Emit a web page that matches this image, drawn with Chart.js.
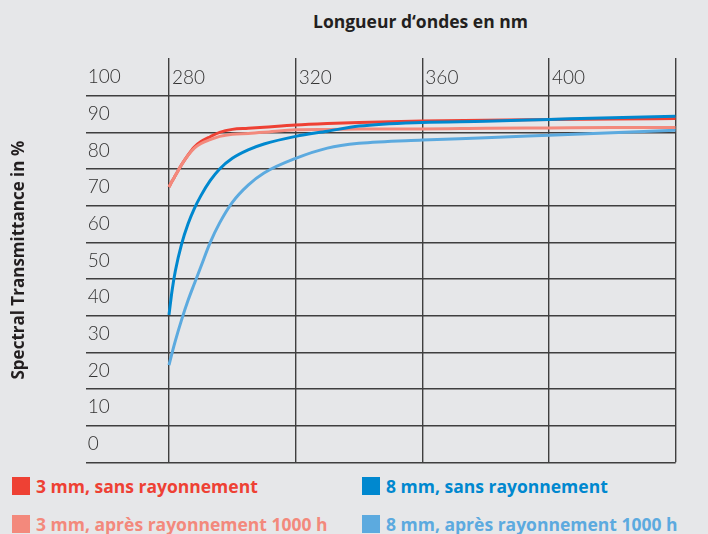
<!DOCTYPE html>
<html>
<head>
<meta charset="utf-8">
<script src="https://cdn.jsdelivr.net/npm/chart.js@4.4.1/dist/chart.umd.min.js"></script>
<style>
  html, body { margin: 0; padding: 0; background: #e6e7e9; }
  body { width: 708px; height: 534px; position: relative; overflow: hidden; font-family: "Open Sans", sans-serif; }
  #wrap { position: absolute; left: 0; top: 0; width: 708px; height: 470px; }
  #top-title { position: absolute; left: 313px; top: 9px; font-weight: 700; font-size: 17.5px; color: #231f20; white-space: nowrap; }
  #legend { position: absolute; left: 12px; top: 474px; }
  .legend-item { position: absolute; display: flex; align-items: center; font-weight: 700; font-size: 17.5px; white-space: nowrap; }
  .legend-item .box { width: 18px; height: 18px; margin-right: 6px; }
</style>
</head>
<body>
<div id="top-title">Longueur d‘ondes en nm</div>
<div id="wrap"><canvas id="chart" width="708" height="470"></canvas></div>
<div id="legend"></div>
<script>
// wavelengths in nm
const wavelengths = [280, 281, 282, 284, 286, 288, 290, 293, 296, 300, 305, 310, 320, 330, 340, 360, 380, 400, 420, 440];

// transmittance in %
const mm3Sans = [70.1, 71.7, 73.2, 76.2, 78.8, 81.0, 82.4, 83.8, 85.0, 85.8, 86.1, 86.4, 87.0, 87.4, 87.7, 88.1, 88.3, 88.5, 88.6, 88.8];
const mm3Apres = [70.1, 71.7, 73.2, 76.2, 78.7, 80.7, 81.9, 83.0, 83.9, 84.5, 84.7, 85.0, 85.7, 85.8, 85.9, 85.9, 86.1, 86.2, 86.3, 86.3];
const mm8Sans = [35.2, 42.0, 47.2, 54.6, 60.0, 64.2, 67.6, 71.8, 75.0, 77.9, 80.2, 81.8, 83.9, 85.3, 86.7, 87.7, 88.0, 88.5, 89.0, 89.4];
const mm8Apres = [21.5, 24.9, 28.1, 33.9, 39.1, 43.7, 48.2, 54.9, 60.3, 65.9, 70.6, 73.9, 77.9, 80.7, 82.0, 82.9, 83.5, 84.2, 84.9, 85.6];

const xTicks = [280, 320, 360, 400, 440];
const yTickLabels = [0, 10, 20, 30, 40, 50, 60, 70, 80, 90, 100];

const seriesLabels = ["3 mm, sans rayonnement", "8 mm, sans rayonnement", "3 mm, après rayonnement 1000 h", "8 mm, après rayonnement 1000 h"];
const seriesColors = ["#ee4134", "#0088cf", "#f3897c", "#5caadf"];

function toPoints(values) {
  return values.map((v, i) => ({ x: wavelengths[i], y: v }));
}

Chart.defaults.font.family = "Lato, sans-serif";
Chart.defaults.color = "#333";

const gridColor = "#3f3f3f";

// labels sit inside the table cells, so no extra room is reserved around the axes
function noScalePadding(scale) {
  scale.paddingTop = 0;
  scale.paddingBottom = 0;
  scale.paddingLeft = 0;
  scale.paddingRight = 0;
}

const chart = new Chart(document.getElementById("chart"), {
  type: "line",
  data: {
    datasets: [
      { label: seriesLabels[0], data: toPoints(mm3Sans), borderColor: seriesColors[0], backgroundColor: seriesColors[0], order: 2 },
      { label: seriesLabels[1], data: toPoints(mm8Sans), borderColor: seriesColors[1], backgroundColor: seriesColors[1], order: 0 },
      { label: seriesLabels[2], data: toPoints(mm3Apres), borderColor: seriesColors[2], backgroundColor: seriesColors[2], order: 1 },
      { label: seriesLabels[3], data: toPoints(mm8Apres), borderColor: seriesColors[3], backgroundColor: seriesColors[3], order: 3 },
    ],
  },
  options: {
    responsive: false,
    animation: false,
    devicePixelRatio: 1,
    layout: { padding: { left: 0, right: 32.3, top: 58, bottom: 7.7 } },
    elements: {
      line: { borderWidth: 3, cubicInterpolationMode: "monotone", fill: false },
      point: { radius: 0 },
    },
    plugins: { legend: { display: false }, tooltip: { enabled: false } },
    scales: {
      x: {
        type: "linear",
        position: "top",
        min: 253.7,
        max: 440,
        afterBuildTicks: (scale) => { scale.ticks = xTicks.map((v) => ({ value: v })); },
        afterFit: (scale) => { scale.height = 0; noScalePadding(scale); },
        border: { display: false },
        grid: { color: gridColor, lineWidth: 1.4, drawTicks: false },
        ticks: {
          mirror: true,
          align: "start",
          labelOffset: 3,
          padding: 8,
          font: { size: 19, weight: 300 },
          color: "#333",
          callback: (v) => (v === 440 ? "" : v),
        },
      },
      y: {
        min: -5,
        max: 105.27,
        afterBuildTicks: (scale) => { scale.ticks = yTickLabels.map((v) => ({ value: v - 5 })); },
        afterFit: (scale) => { scale.width = 85.7; noScalePadding(scale); },
        border: { display: false },
        grid: { color: gridColor, lineWidth: 1.4, drawTicks: false },
        title: {
          display: true,
          text: "Spectral Transmittance in %",
          font: { family: "'Open Sans', sans-serif", size: 17, weight: 700 },
          color: "#231f20",
          padding: { top: 9, bottom: 0 },
        },
        ticks: {
          mirror: true,
          padding: 2,
          labelOffset: -18.33,
          font: { size: 19, weight: 300 },
          color: "#333",
          callback: (v) => v + 5,
        },
      },
    },
  },
});

// html legend in two columns
const legendEl = document.getElementById("legend");
const legendPos = [[0, 0], [350, 0], [0, 38], [350, 38]];
seriesLabels.forEach((label, i) => {
  const item = document.createElement("div");
  item.className = "legend-item";
  item.style.left = legendPos[i][0] + "px";
  item.style.top = legendPos[i][1] + "px";
  item.style.color = seriesColors[i];
  const box = document.createElement("span");
  box.className = "box";
  box.style.background = seriesColors[i];
  item.appendChild(box);
  item.appendChild(document.createTextNode(label));
  legendEl.appendChild(item);
});
</script>
</body>
</html>
